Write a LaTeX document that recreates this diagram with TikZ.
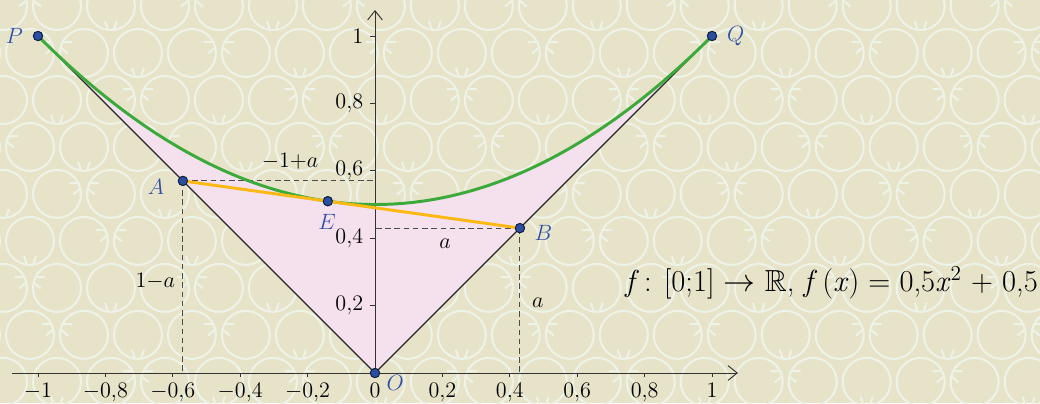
\documentclass[tikz,border=0pt]{standalone}
\usepackage{amssymb}
\usepackage{fontspec}
\usetikzlibrary{arrows.meta}
\definecolor{bg}{HTML}{E7E3C9}
\definecolor{pat}{HTML}{EEF3E8}
\definecolor{pinkf}{HTML}{F5E0EE}
\definecolor{grn}{HTML}{3BAA3A}
\definecolor{org}{HTML}{FDB913}
\definecolor{ptblue}{HTML}{2B4EA2}
\definecolor{lblblue}{HTML}{3050A8}
\begin{document}
\begin{tikzpicture}[x=6.42cm,y=6.42cm,
  pnt/.style={circle,fill=ptblue,draw=black!60!ptblue,line width=0.5pt,inner sep=0pt,minimum size=5pt},
  lbl/.style={text=lblblue,font=\fontsize{13}{15}\selectfont,inner sep=0pt},
  ticklab/.style={font=\fontsize{12}{14}\selectfont,inner sep=0pt},
  seglab/.style={font=\fontsize{12.5}{15}\selectfont,inner sep=0pt},
  axis/.style={line width=0.5pt,black!80,-{Straight Barb[length=5pt,width=8pt]}},
  dsh/.style={black!70,line width=0.5pt,dash pattern=on 3pt off 2pt},
  patline/.style={pat,line width=1.1pt}
]
\useasboundingbox (-1.11276,-0.08902) rectangle (1.97329,1.10682);
\fill[bg] (-1.11276,-0.08902) rectangle (1.97329,1.10682);
% background pattern (pixel coordinates)
\begin{scope}
\clip (-1.11276,-0.08902) rectangle (1.97329,1.10682);
\begin{scope}[shift={(-1.11276,1.10682)},x=0.019050cm,y=-0.019050cm]
\foreach \k in {0,...,9}{
  \foreach \j in {0,...,21}{
    \pgfmathsetmacro{\cx}{867+54*(\j-17)-27*mod(\k,2)}
    \pgfmathsetmacro{\cy}{53+47*(\k-1)}
    \pgfmathsetmacro{\th}{{270,20,160}[mod(\j+2*\k,3)]}
    \draw[patline] (\cx,\cy) circle (24);
    \begin{scope}[shift={(\cx,\cy)},rotate=\th]
      \draw[patline] (23.5,-3) -- (15,-6);
      \draw[patline] (23.5,3) -- (15,6);
    \end{scope}
  }
}
\end{scope}
\end{scope}
% pink region
\fill[pinkf] (-1,1) -- (0,0) -- (1,1) -- plot[domain=1:-1,samples=120] (\x,{0.5*\x*\x+0.5}) -- cycle;
% coordinates
\coordinate (A0) at (-0.57,0);
\coordinate (Ay) at (0,0.57);
\coordinate (B0) at (0.43,0);
\coordinate (By) at (0,0.43);
\coordinate (Xs) at (-1.077,0);
\coordinate (Xe) at (1.077,0);
\coordinate (Ys) at (0,0);
\coordinate (Ye) at (0,1.077);
% dashed
\draw[dsh] (-0.57,0.57) -- (Ay);
\draw[dsh] (-0.57,0.57) -- (A0);
\draw[dsh] (0.43,0.43) -- (By);
\draw[dsh] (0.43,0.43) -- (B0);
% axes
\draw[axis] (Xs) -- (Xe);
\draw[axis] (Ys) -- (Ye);
\foreach \t/\l in {-1/$-1$,-0.8/$-0{,}8$,-0.6/$-0{,}6$,-0.4/$-0{,}4$,-0.2/$-0{,}2$,0/$0$,0.2/$0{,}2$,0.4/$0{,}4$,0.6/$0{,}6$,0.8/$0{,}8$,1/$1$}{
  \draw[line width=0.5pt,black!80] (\t,0) -- (\t,-0.013);
  \node[ticklab,anchor=base] (xl\t) at (\t,-0.0735) {\l};
}
\foreach \t/\l in {0.2/$0{,}2$,0.4/$0{,}4$,0.6/$0{,}6$,0.8/$0{,}8$,1/$1$}{
  \draw[line width=0.5pt,black!80] (0,\t) -- (-0.016,\t);
  \node[ticklab,anchor=east] (yl\t) at (-0.034,\t) {\l};
}
% points
\node[pnt] (P) at (-1,1) {};
\node[pnt] (Q) at (1,1) {};
\node[pnt] (O) at (0,0) {};
\node[pnt] (A) at (-0.57,0.57) {};
\node[pnt] (B) at (0.43,0.43) {};
\node[pnt] (E) at (-0.14,0.5098) {};
% lines
\draw[line width=0.65pt,black!85] (P.center) -- (O.center) -- (Q.center);
\draw[grn,line width=1.6pt] plot[domain=-1:1,samples=150] (\x,{0.5*\x*\x+0.5});
\draw[org,line width=1.6pt] (A.center) -- (B.center);
% redraw points on top
\foreach \p in {P,Q,O,A,B,E}{\node[pnt] at (\p) {};}
% labels
\node[lbl] (lP) at (-1.07,1.0) {$P$};
\node[lbl] (lQ) at (1.07,1.0) {$Q$};
\node[lbl] (lA) at (-0.65,0.552) {$A$};
\node[lbl] (lB) at (0.5,0.415) {$B$};
\node[lbl] (lE) at (-0.142,0.447) {$E$};
\node[lbl] (lO) at (0.06,-0.03) {$O$};
\node[seglab] (s1) at (-0.252,0.627) {$-1{+}a$};
\node[seglab] (s2) at (0.208,0.385) {$a$};
\node[seglab] (s3) at (-0.652,0.273) {$1{-}a$};
\node[seglab] (s4) at (0.483,0.208) {$a$};
% formula
\node[anchor=base west,inner sep=0pt,font=\rmfamily\fontsize{16.5}{19}\selectfont] (fml) at (0.7418,0.2404)
 {\textit{f}\,: [0;1] $\rightarrow$ $\mathbb{R}$, \textit{f}\,(\textit{x}) = 0,5\textit{x}\textsuperscript{2} + 0,5};
\end{tikzpicture}
\end{document}
